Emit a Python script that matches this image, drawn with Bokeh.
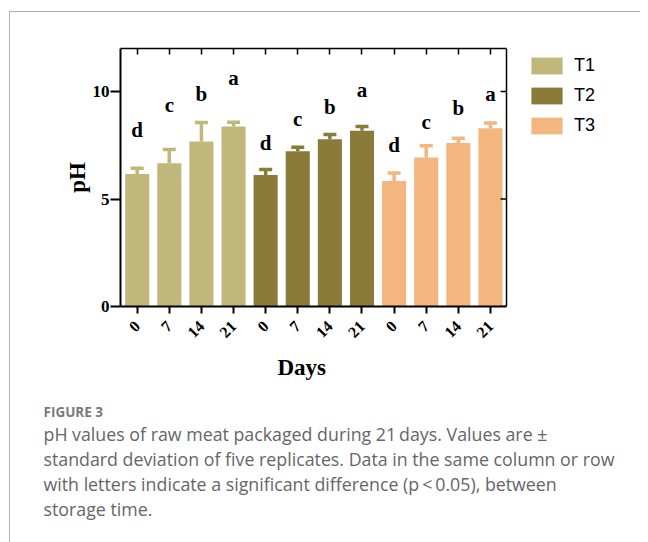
import math
from bokeh.plotting import figure
from bokeh.layouts import column
from bokeh.models import (Range1d, FixedTicker, LinearAxis, Whisker, TeeHead,
                          ColumnDataSource, Legend, LegendItem, Title, Span)
from bokeh.core.properties import value
from bokeh.embed import file_html
from bokeh.resources import INLINE

# ---------------- data ----------------
days = ["0", "7", "14", "21"]
treatments = ["T1", "T2", "T3"]
colors = ["#C1B77B", "#8B7B3A", "#F2B67E"]

ph_T1 = [6.16, 6.66, 7.67, 8.37]
ph_T2 = [6.12, 7.22, 7.78, 8.17]
ph_T3 = [5.84, 6.93, 7.61, 8.29]
sd_T1 = [0.27, 0.64, 0.89, 0.20]
sd_T2 = [0.25, 0.19, 0.22, 0.20]
sd_T3 = [0.37, 0.55, 0.22, 0.25]

letters_T1 = ["d", "c", "b", "a"]
letters_T2 = ["d", "c", "b", "a"]
letters_T3 = ["d", "c", "b", "a"]
letter_y_T1 = [8.20, 9.35, 9.90, 10.62]
letter_y_T2 = [7.62, 8.74, 9.30, 10.06]
letter_y_T3 = [7.51, 8.58, 9.21, 9.90]

y_ticks = [0, 5, 10]
x_title = "Days"
y_title = "pH"

caption_title = "FIGURE 3"
caption_lines = [
    "pH values of raw meat packaged during 21\u2009days. Values are \u00b1",
    "standard deviation of five replicates. Data in the same column or row",
    "with letters indicate a significant difference (p\u2009<\u20090.05), between",
    "storage time.",
]

ph = [ph_T1, ph_T2, ph_T3]
sd = [sd_T1, sd_T2, sd_T3]
letters = [letters_T1, letters_T2, letters_T3]
letter_y = [letter_y_T1, letter_y_T2, letter_y_T3]

SERIF = "Liberation Serif"
W = 630
H = 530
BORDER_L = 110          # left border (px)
BOX_PX = 386            # width of the boxed plot area (px)
X0, X1 = -0.52, 11.5    # data extent of the boxed plot area
FRAME_PX = W - BORDER_L  # frame extends to the right edge (legend lives there)
X_END = X0 + (X1 - X0) * FRAME_PX / BOX_PX

# ---------------- main chart ----------------
p = figure(width=W, height=H, output_backend="svg", toolbar_location=None,
           x_range=Range1d(X0, X_END), y_range=Range1d(0, 12),
           min_border_left=BORDER_L, min_border_right=0, min_border_top=36,
           min_border_bottom=H - 294)
p.outline_line_color = None
p.xgrid.grid_line_color = None
p.ygrid.grid_line_color = None

all_pos = []
tick_labels = {}
legend_items = []
for t, name in enumerate(treatments):
    xs = [4 * t + i for i in range(len(days))]
    all_pos += xs
    for i, d in enumerate(days):
        tick_labels[xs[i]] = d
    src = ColumnDataSource(dict(
        x=xs, top=ph[t], lower=ph[t],
        upper=[v + e for v, e in zip(ph[t], sd[t])],
        letter=letters[t], ly=letter_y[t]))
    r = p.vbar(x="x", top="top", width=0.75, source=src,
               fill_color=colors[t], line_color=None)
    legend_items.append(LegendItem(label=name, renderers=[r]))
    p.add_layout(Whisker(base="x", lower="lower", upper="upper", source=src,
                         line_color=colors[t], line_width=3.5,
                         upper_head=TeeHead(size=13, line_color=colors[t], line_width=3.5),
                         lower_head=None))
    p.text(x="x", y="ly", text="letter", source=src,
           text_font=value(SERIF), text_font_style="bold",
           text_font_size="21px", text_align="center",
           text_baseline="alphabetic", text_color="black")

# bottom axis
xa = p.xaxis[0]
xa.ticker = FixedTicker(ticks=all_pos)
xa.bounds = (X0, X1)
xa.major_label_overrides = dict(tick_labels)
xa.major_label_orientation = math.pi / 4
xa.major_label_text_font = SERIF
xa.major_label_text_font_style = "bold"
xa.major_label_text_font_size = "16px"
xa.major_label_text_color = "black"
xa.major_label_standoff = 10
xa.axis_line_width = 2
xa.major_tick_line_width = 2
xa.major_tick_out = 7
xa.major_tick_in = 0
xa.minor_tick_line_color = None

# left axis
ya = p.yaxis[0]
ya.ticker = FixedTicker(ticks=y_ticks)
ya.major_label_text_font = SERIF
ya.major_label_text_font_style = "bold"
ya.major_label_text_font_size = "17px"
ya.major_label_text_color = "black"
ya.major_label_standoff = 1
ya.axis_line_width = 2
ya.major_tick_line_width = 2
ya.major_tick_out = 10
ya.major_tick_in = 0
ya.minor_tick_line_color = None
ya.axis_label = y_title
ya.axis_label_text_font = SERIF
ya.axis_label_text_font_style = "bold"
ya.axis_label_text_font_size = "23px"
ya.axis_label_text_color = "black"
ya.axis_label_standoff = 0

# top axis (ticks inward, no labels), limited to the box
top_ax = LinearAxis(ticker=FixedTicker(ticks=all_pos), bounds=(X0, X1),
                    major_label_overrides={k: "" for k in all_pos},
                    axis_line_width=1.5, major_tick_line_width=1.5,
                    major_tick_in=6, major_tick_out=0, major_label_standoff=0,
                    minor_tick_line_color=None, major_label_text_font_size="1px")
p.add_layout(top_ax, "above")

# right edge of the box with inward ticks
p.add_layout(Span(location=X1, dimension="height", line_color="black", line_width=1.5))
tick_half = 3.0 * (X1 - X0) / BOX_PX
p.scatter(x=[X1 - tick_half] * len(y_ticks), y=y_ticks, marker="dash", size=6,
          line_color="black", line_width=1.5)

legend = Legend(items=legend_items, location=(407, 170),
                glyph_width=39, glyph_height=21, label_height=21,
                spacing=9, padding=0, margin=0, label_standoff=8,
                label_text_font="Liberation Sans", label_text_font_size="18px",
                label_text_color="black",
                border_line_alpha=0, background_fill_alpha=0)
p.add_layout(legend, "center")

# x title and caption in the panel below
p.add_layout(Title(text=x_title, align="left", offset=157, standoff=14,
                   text_font=SERIF, text_font_style="bold", text_font_size="23px",
                   text_color="black"), "below")
p.add_layout(Title(text=caption_title, align="left", offset=-77, standoff=29,
                   text_font="Open Sans", text_font_style="bold",
                   text_font_size="13.5px", text_color="#7a7a7a"), "below")
p.add_layout(Title(text="\n".join(caption_lines), align="left", offset=-77,
                   standoff=-31, text_font="Open Sans", text_font_style="normal",
                   text_font_size="17.8px", text_line_height=1.04,
                   text_color="#666666"), "below")

layout = column(p, styles={"margin-left": "9px", "margin-top": "11px",
                           "border-left": "1px solid #b0b0b0",
                           "border-top": "1px solid #b0b0b0"})

open("out.html", "w").write(file_html(layout, INLINE))
